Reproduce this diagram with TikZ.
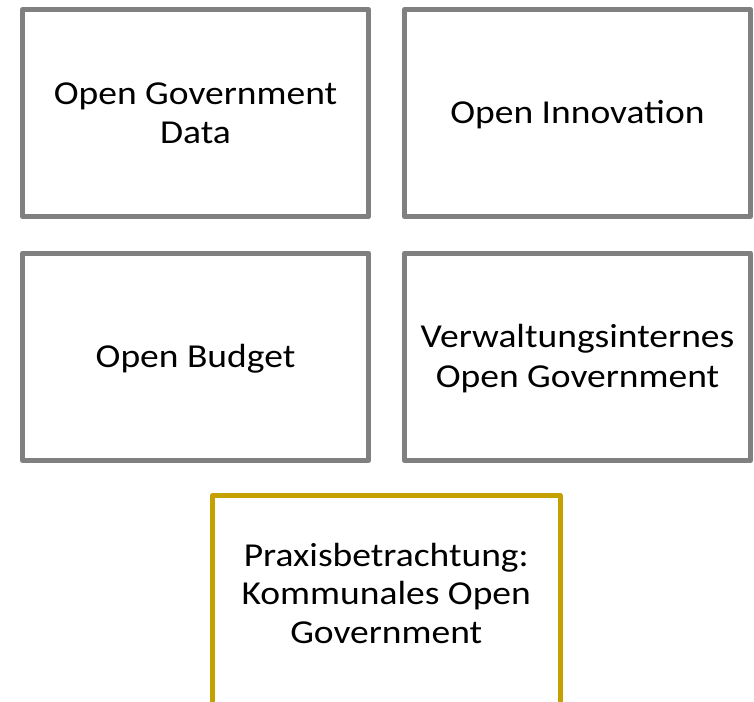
\documentclass[tikz,border=0pt]{standalone}
\usepackage{fontspec}
\setmainfont{Carlito}[FakeStretch=1.12]
\definecolor{boxgray}{RGB}{128,128,128}
\definecolor{boxgold}{RGB}{196,160,0}
\newcommand\capline[1]{\rule{0pt}{\fontcharht\font`H}\smash{#1}}
\begin{document}
\begin{tikzpicture}[x=1pt,y=-1pt,
  topicbox/.style={draw=boxgray, line width=5pt, line join=round, fill=white,
    minimum width=346pt, inner sep=0pt, align=center,
    font=\fontsize{33.5}{39.3}\selectfont},
  praxisbox/.style={draw=boxgold, line width=5pt, line join=round,
    minimum width=347.5pt, minimum height=264.5pt, inner sep=0pt},
  praxislabel/.style={align=center, font=\fontsize{33.5}{38.6}\selectfont, inner sep=0pt}]
\clip (0,0) rectangle (754,701);
\node[topicbox, minimum height=207pt] (ogd) at (195.5,113) {\capline{Open Government}\\\capline{Data}};
\node[topicbox, minimum height=207pt] (oi) at (577.5,113) {\capline{Open Innovation}};
\node[topicbox, minimum height=207.5pt] (ob) at (195.5,356.75) {\capline{Open Budget}};
\node[topicbox, minimum height=207.5pt] (vog) at (577.5,356.75) {\capline{Verwaltungsinternes}\\\capline{Open Government}};
\node[praxisbox] (praxis) at (386.25,627.75) {};
\node[praxislabel] (praxistext) at (386.25,594.2) {\capline{Praxisbetrachtung:}\\\capline{Kommunales Open}\\\capline{Government}};
\end{tikzpicture}
\end{document}
